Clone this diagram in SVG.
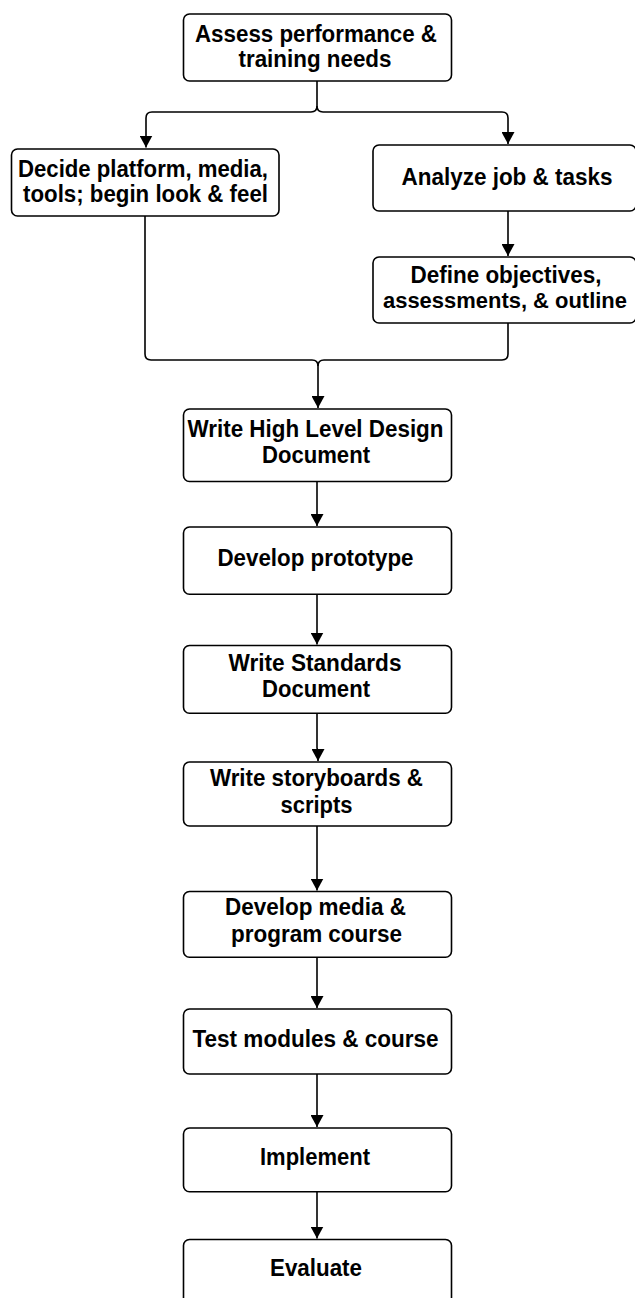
<svg xmlns="http://www.w3.org/2000/svg" width="635" height="1298" viewBox="0 0 635 1298">
  <style>
    .box { fill: #ffffff; stroke: #000000; stroke-width: 1.6; }
    .lbl { font-family: "Liberation Sans", Arial, sans-serif; font-weight: bold; font-size: 23.5px; fill: #000000; text-anchor: middle; }
    .conn { fill: none; stroke: #000000; stroke-width: 1.6; }
  </style>
  <defs>
    <marker id="arrow" markerUnits="userSpaceOnUse" markerWidth="13" markerHeight="13" refX="12" refY="6.5" orient="auto">
      <path d="M0,0 L12,6.5 L0,13 z" fill="#000000"/>
    </marker>
  </defs>
  <rect width="635" height="1298" fill="#ffffff"/>

  <g id="connectors">
    <path class="conn" d="M317,81 V106 Q317,112 311,112 H152 Q146,112 146,118 V147.5" marker-end="url(#arrow)"/>
    <path class="conn" d="M317,106 Q317,112 323,112 H502 Q508,112 508,118 V144" marker-end="url(#arrow)"/>
    <path class="conn" d="M508,211 V256" marker-end="url(#arrow)"/>
    <path class="conn" d="M145,216 V354 Q145,360 151,360 H312 Q318,360 318,366 V408" marker-end="url(#arrow)"/>
    <path class="conn" d="M508,323 V354 Q508,360 502,360 H324 Q318,360 318,366"/>
    <path class="conn" d="M317,481.5 V526" marker-end="url(#arrow)"/>
    <path class="conn" d="M317,594.3 V644.5" marker-end="url(#arrow)"/>
    <path class="conn" d="M317,713.3 V748 L318,752 V761" marker-end="url(#arrow)"/>
    <path class="conn" d="M317,826 V890.5" marker-end="url(#arrow)"/>
    <path class="conn" d="M317,957.3 V1008" marker-end="url(#arrow)"/>
    <path class="conn" d="M317,1074 V1127" marker-end="url(#arrow)"/>
    <path class="conn" d="M317,1191.7 V1238.5" marker-end="url(#arrow)"/>
  </g>

  <g id="assess">
    <rect class="box" x="183.5" y="14" width="268" height="67" rx="6"/>
    <text class="lbl" x="316" y="41.7" textLength="242" lengthAdjust="spacingAndGlyphs">Assess performance &amp;</text>
    <text class="lbl" x="315" y="66.7" textLength="153" lengthAdjust="spacingAndGlyphs">training needs</text>
  </g>
  <g id="decide">
    <rect class="box" x="11.5" y="149" width="267.5" height="67" rx="6"/>
    <text class="lbl" x="143" y="176.7" textLength="250" lengthAdjust="spacingAndGlyphs">Decide platform, media,</text>
    <text class="lbl" x="145.5" y="201.7" textLength="245" lengthAdjust="spacingAndGlyphs">tools; begin look &amp; feel</text>
  </g>
  <g id="analyze">
    <rect class="box" x="373" y="145" width="263" height="66" rx="6"/>
    <text class="lbl" x="507" y="185" textLength="211" lengthAdjust="spacingAndGlyphs">Analyze job &amp; tasks</text>
  </g>
  <g id="define">
    <rect class="box" x="373" y="257" width="263" height="66" rx="6"/>
    <text class="lbl" x="506" y="283.3" textLength="191" lengthAdjust="spacingAndGlyphs">Define objectives,</text>
    <text class="lbl" x="505" y="308" style="font-size:22px" textLength="244" lengthAdjust="spacingAndGlyphs">assessments, &amp; outline</text>
  </g>
  <g id="hld">
    <rect class="box" x="183.5" y="409" width="268" height="72.5" rx="6"/>
    <text class="lbl" x="315.5" y="436.7" textLength="256" lengthAdjust="spacingAndGlyphs">Write High Level Design</text>
    <text class="lbl" x="316" y="463.3" textLength="108" lengthAdjust="spacingAndGlyphs">Document</text>
  </g>
  <g id="prototype">
    <rect class="box" x="183.5" y="527" width="268" height="67.3" rx="6"/>
    <text class="lbl" x="315.5" y="566" textLength="196" lengthAdjust="spacingAndGlyphs">Develop prototype</text>
  </g>
  <g id="standards">
    <rect class="box" x="183.5" y="645.5" width="268" height="67.8" rx="6"/>
    <text class="lbl" x="315" y="670.7" textLength="173" lengthAdjust="spacingAndGlyphs">Write Standards</text>
    <text class="lbl" x="316" y="697.3" textLength="108" lengthAdjust="spacingAndGlyphs">Document</text>
  </g>
  <g id="storyboards">
    <rect class="box" x="183.5" y="762" width="268" height="64" rx="6"/>
    <text class="lbl" x="316.5" y="786" textLength="213" lengthAdjust="spacingAndGlyphs">Write storyboards &amp;</text>
    <text class="lbl" x="316.5" y="812.7" textLength="72" lengthAdjust="spacingAndGlyphs">scripts</text>
  </g>
  <g id="media">
    <rect class="box" x="183.5" y="891.5" width="268" height="65.8" rx="6"/>
    <text class="lbl" x="315.5" y="915" textLength="181" lengthAdjust="spacingAndGlyphs">Develop media &amp;</text>
    <text class="lbl" x="316.5" y="941.7" textLength="171" lengthAdjust="spacingAndGlyphs">program course</text>
  </g>
  <g id="test">
    <rect class="box" x="183.5" y="1009" width="268" height="65" rx="6"/>
    <text class="lbl" x="315.5" y="1047.3" textLength="246" lengthAdjust="spacingAndGlyphs">Test modules &amp; course</text>
  </g>
  <g id="implement">
    <rect class="box" x="183.5" y="1128" width="268" height="63.7" rx="6"/>
    <text class="lbl" x="315" y="1165" textLength="110" lengthAdjust="spacingAndGlyphs">Implement</text>
  </g>
  <g id="evaluate">
    <rect class="box" x="183.5" y="1239.5" width="268" height="67" rx="6"/>
    <text class="lbl" x="316" y="1276" textLength="92" lengthAdjust="spacingAndGlyphs">Evaluate</text>
  </g>
</svg>
